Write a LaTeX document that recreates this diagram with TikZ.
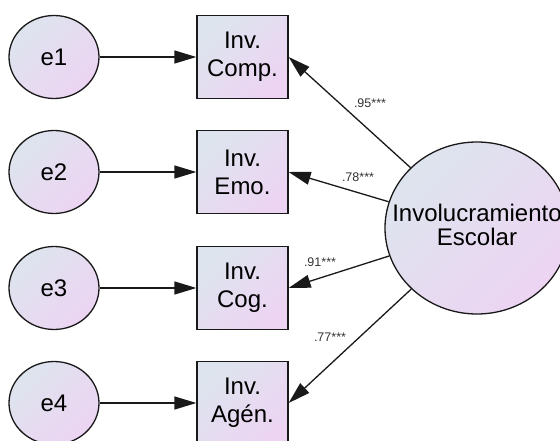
\documentclass[tikz,border=0pt]{standalone}
\usepackage{fontspec}
\setmainfont{Liberation Sans}
\usetikzlibrary{shapes.geometric,arrows.meta}
\definecolor{gtop}{RGB}{221,228,238}
\definecolor{gbot}{RGB}{237,212,243}
\definecolor{edgec}{RGB}{25,25,25}
\definecolor{labc}{RGB}{50,50,50}
\tikzset{
  grad/.style={top color=gtop, bottom color=gbot, shading angle=45, draw=edgec, line width=1.3pt},
  errnode/.style={grad, ellipse, minimum width=90pt, minimum height=83pt, inner sep=0pt,
    font=\fontsize{24}{28}\selectfont},
  obsbox/.style={grad, rectangle, minimum width=91pt, minimum height=83pt, inner sep=0pt,
    align=center, font=\fontsize{24}{28}\selectfont},
  latent/.style={grad, ellipse, minimum width=184pt, minimum height=172pt, inner sep=0pt,
    font=\fontsize{24}{23}\selectfont},
  conn/.style={draw=edgec, line width=1.3pt, -{Triangle[length=22pt,width=13pt]}},
  lab/.style={text=labc, font=\fontsize{12.5}{14}\selectfont, inner sep=0pt}
}
\begin{document}
\begin{tikzpicture}[x=1pt,y=-1pt]
\useasboundingbox (0,0) rectangle (560,441);
\node[errnode] (e1) at (54,57) {e1};
\node[errnode] (e2) at (54,172) {e2};
\node[errnode] (e3) at (54,288) {e3};
\node[errnode] (e4) at (54,403) {e4};
\node[obsbox] (b1) at (242.5,57) {Inv.\\Comp.};
\node[obsbox] (b2) at (242.5,172) {Inv.\\Emo.};
\node[obsbox] (b3) at (242.5,288) {Inv.\\Cog.};
\node[obsbox] (b4) at (242.5,403) {Inv.\\Agén.};
\node[latent] (big) at (477,228) {\makebox[0pt][c]{\begin{tabular}{@{}c@{}}Involucramiento\\Escolar\end{tabular}}};
\draw[conn] (e1) -- (b1);
\draw[conn] (e2) -- (b2);
\draw[conn] (e3) -- (b3);
\draw[conn] (e4) -- (b4);
\draw[conn] (big) -- (b1.east);
\draw[conn] (big) -- (b2.east);
\draw[conn] (big) -- (b3.east);
\draw[conn] (big) -- (b4.east);
\node[lab] (l1) at (370,103) {.95***};
\node[lab] (l2) at (358,177) {.78***};
\node[lab] (l3) at (320,262) {.91***};
\node[lab] (l4) at (330,337) {.77***};
\end{tikzpicture}
\end{document}
